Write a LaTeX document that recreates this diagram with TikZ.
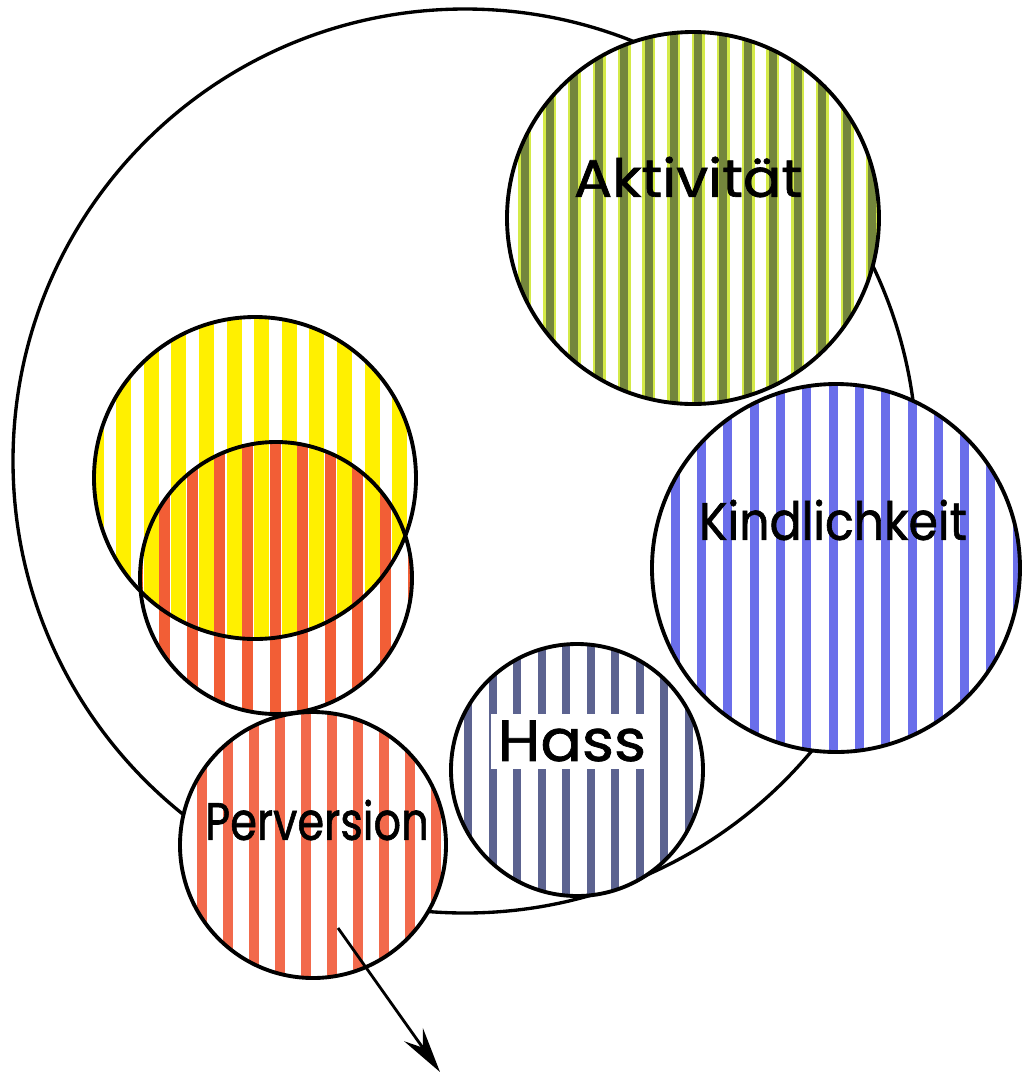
\documentclass[tikz,border=0pt]{standalone}
\usepackage{fontspec}
\setmainfont{Poppins}
\newfontfamily\labelfont{Poppins}[FakeBold=1.2]
\usetikzlibrary{arrows.meta}

\definecolor{olivestripe}{HTML}{74863C}
\definecolor{limefringe}{HTML}{D4EA48}
\definecolor{bluestripe}{HTML}{6A6EEA}
\definecolor{slatestripe}{HTML}{5C6390}
\definecolor{salmonstripe}{HTML}{F26A4C}
\definecolor{yellowstripe}{HTML}{FFF000}
\definecolor{redstripe}{HTML}{F25E36}

\begin{document}
\begin{tikzpicture}[
    x=0.02cm, y=-0.02cm,
    whole/.style={draw=black, line width=1.9pt},
    ring/.style={draw=black, line width=2.2pt},
    caption/.style={font=\labelfont\fontsize{30}{33}\selectfont, inner sep=0pt},
    arrow/.style={-{Stealth[length=26pt, width=13pt, inset=9pt]}, line width=1.6pt}
]
\useasboundingbox (0,0) rectangle (1033,1080);

% Centres
\coordinate (GanzesMitte) at (465,461);
\coordinate (AktivitaetMitte) at (693,218);
\coordinate (KindlichkeitMitte) at (836,568);
\coordinate (HassMitte) at (577,770);
\coordinate (PerversionMitte) at (313,845);
\coordinate (GelbMitte) at (255,478);
\coordinate (RotMitte) at (276,578);

% Outer circle
\draw[whole] (GanzesMitte) circle[radius=452];

% Aktivitaet
\begin{scope}
  \clip (AktivitaetMitte) circle[radius=186];
  \fill[white] (AktivitaetMitte) circle[radius=186];
  \foreach \x in {500,524.8,...,900} \fill[limefringe] (\x-6.5,0) rectangle (\x+6.5,1080);
  \foreach \x in {500,524.8,...,900} \fill[olivestripe] (\x-4,0) rectangle (\x+4,1080);
\end{scope}
\draw[ring] (AktivitaetMitte) circle[radius=186];

% Kindlichkeit
\begin{scope}
  \clip (KindlichkeitMitte) circle[radius=184];
  \fill[white] (KindlichkeitMitte) circle[radius=184];
  \foreach \x in {649,675.3,...,1030} \fill[bluestripe] (\x-4.5,0) rectangle (\x+4.5,1080);
\end{scope}
\draw[ring] (KindlichkeitMitte) circle[radius=184];

% Hass
\begin{scope}
  \clip (HassMitte) circle[radius=126];
  \fill[white] (HassMitte) circle[radius=126];
  \foreach \x in {468,492.5,...,710} \fill[slatestripe] (\x-4,0) rectangle (\x+4,1080);
\end{scope}
\draw[ring] (HassMitte) circle[radius=126];

% Gelb und Rot
\begin{scope}
  \clip (GelbMitte) circle[radius=161];
  \fill[white] (GelbMitte) circle[radius=161];
  \foreach \x in {96,123.6,...,420} \fill[yellowstripe] (\x-7.5,0) rectangle (\x+7.5,1080);
\end{scope}
\begin{scope}
  \clip (RotMitte) circle[radius=136];
  \fill[white, even odd rule] (RotMitte) circle[radius=136] (GelbMitte) circle[radius=161];
  \foreach \x in {137,164.6,...,420} \fill[redstripe] (\x-5.5,0) rectangle (\x+5.5,1080);
\end{scope}
\draw[ring] (GelbMitte) circle[radius=161];
\draw[ring] (RotMitte) circle[radius=136];

% Perversion
\begin{scope}
  \clip (PerversionMitte) circle[radius=133];
  \fill[white] (PerversionMitte) circle[radius=133];
  \foreach \x in {176,202,...,450} \fill[salmonstripe] (\x-5,0) rectangle (\x+5,1080);
\end{scope}
\draw[ring] (PerversionMitte) circle[radius=133];

% Labels
\node[caption] (AktivitaetText) at (688,177) {\scalebox{1.08}[1]{Aktivität}};
\node[caption] (KindlichkeitText) at (833,520) {\scalebox{0.9}[1]{Kindlichkeit}};
\node[caption, font=\labelfont\fontsize{33}{36}\selectfont, fill=white, inner sep=4pt] (HassText) at (572,741) {\scalebox{1.06}[1]{Hass}};
\node[caption] (PerversionText) at (317,820) {\scalebox{0.82}[1]{Perversion}};

% Arrow
\coordinate (PfeilAnfang) at (338,928);
\coordinate (PfeilEnde) at (440,1072);
\draw[arrow] (PfeilAnfang) -- (PfeilEnde);

\end{tikzpicture}
\end{document}
